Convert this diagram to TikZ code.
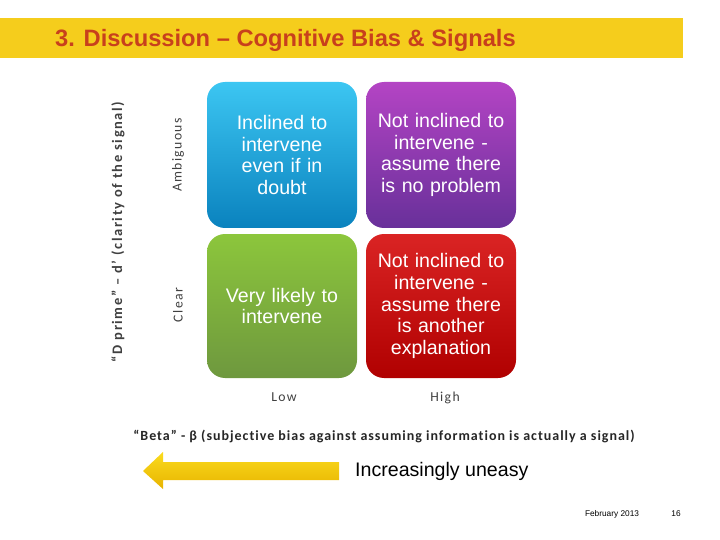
\documentclass[tikz,border=0pt]{standalone}
\usepackage{fontspec}
\setmainfont{Liberation Sans}
\newfontfamily\calib{Carlito}
\newfontfamily\calibsp[LetterSpace=10]{Carlito}
\newfontfamily\calibdp[LetterSpace=11]{Carlito}
\newfontfamily\calibbeta[LetterSpace=7,Ligatures=NoCommon]{Carlito}
\usetikzlibrary{shapes.geometric}
\definecolor{bandyellow}{HTML}{F5CD1C}
\definecolor{titlered}{HTML}{C8401C}
\definecolor{labgrey}{HTML}{404040}
\definecolor{blueTop}{HTML}{3CC6F2}
\definecolor{blueBot}{HTML}{0A82BE}
\definecolor{purpTop}{HTML}{B444C4}
\definecolor{purpBot}{HTML}{68309A}
\definecolor{greenTop}{HTML}{8CC63C}
\definecolor{greenBot}{HTML}{6E983E}
\definecolor{redTop}{HTML}{DA2424}
\definecolor{redBot}{HTML}{B00000}
\definecolor{arrTop}{HTML}{FADB1E}
\definecolor{arrBot}{HTML}{E8B400}
\tikzset{
  quad/.style={rounded corners=18pt, minimum width=150pt, text width=145pt, align=center,
    text=white, font=\fontsize{19.6}{21.7}\selectfont, inner sep=0pt},
  axislab/.style={text=labgrey, font=\calibsp\fontsize{13.7}{15}\selectfont, inner sep=0pt},
}
\begin{document}
\begin{tikzpicture}[x=1pt,y=-1pt]
\useasboundingbox (0,0) rectangle (720,540);
% title band
\fill[bandyellow] (0,18) rectangle (683,58);
\node[anchor=base west, text=titlered, font=\bfseries\fontsize{23.7}{26}\selectfont, inner sep=0pt] (title) at (55,47) {3. Discussion -- Cognitive Bias \& Signals};
% quadrants
\node[quad, minimum height=146pt, top color=blueTop, bottom color=blueBot] (q1) at (282,155) {Inclined to\\intervene\\even if in\\doubt};
\node[quad, minimum height=146pt, top color=purpTop, bottom color=purpBot] (q2) at (441,155) {Not inclined to\\intervene -\\assume there\\is no problem};
\node[quad, minimum height=144pt, top color=greenTop, bottom color=greenBot] (q3) at (282,306) {Very likely to\\intervene};
\node[quad, minimum height=144pt, top color=redTop, bottom color=redBot] (q4) at (441,306) {Not inclined to\\intervene -\\assume there\\is another\\explanation};
% axis labels
\node[axislab, rotate=90, font=\calibdp\bfseries\fontsize{14.5}{16}\selectfont] (dprime) at (118,232) {“D prime” – d’ (clarity of the signal)};
\node[axislab, rotate=90] (amb) at (178,155) {Ambiguous};
\node[axislab, rotate=90] (clear) at (178,305) {Clear};
\node[axislab] (low) at (284,397) {Low};
\node[axislab] (high) at (445,398) {High};
\node[axislab, text=black!85, font=\calibbeta\bfseries\fontsize{14}{16}\selectfont] (beta) at (384,436) {“Beta” - β (subjective bias against assuming information is actually a signal)};
% arrow
\shade[top color=arrTop, bottom color=arrBot] (143,471) -- (163,452) -- (163,462) -- (339,462) -- (339,480) -- (163,480) -- (163,489) -- cycle;
\node[anchor=west, font=\fontsize{19.6}{22}\selectfont, inner sep=0pt] (uneasy) at (355,471) {Increasingly uneasy};
% footer
\node[font=\fontsize{8.3}{9}\selectfont, inner sep=0pt] (date) at (612,514) {February 2013};
\node[font=\fontsize{8.3}{9}\selectfont, inner sep=0pt] (page) at (676,514) {16};
\end{tikzpicture}
\end{document}
